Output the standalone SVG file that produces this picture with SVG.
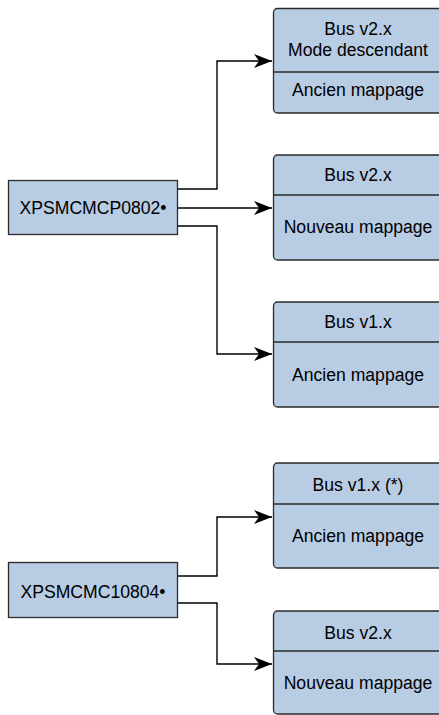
<svg xmlns="http://www.w3.org/2000/svg" width="439" height="715" viewBox="0 0 439 715">
<style>
.box{fill:#b8cce4;stroke:#2b2b2b;stroke-width:1.3}
.div{stroke:#2b2b2b;stroke-width:1.3;fill:none}
.t{font-family:"Liberation Sans",Arial,sans-serif;font-size:17.6px;fill:#000;text-anchor:middle}
.c{fill:none;stroke:#000;stroke-width:1.4}
</style>
<defs>
<marker id="arr" viewBox="0 0 18 14" refX="18" refY="7" markerWidth="18" markerHeight="14" markerUnits="userSpaceOnUse" orient="auto">
<path d="M0,0 L18,7 L0,14 L5,7 Z" fill="#000"/>
</marker>
</defs>
<rect width="439" height="715" fill="#fff"/>
<g id="connectors">
<path class="c" d="M178,189 H217 V61 H272" marker-end="url(#arr)"/>
<path class="c" d="M178,208 H272" marker-end="url(#arr)"/>
<path class="c" d="M178,226 H217 V354 H272" marker-end="url(#arr)"/>
<path class="c" d="M178,576 H217 V517 H272" marker-end="url(#arr)"/>
<path class="c" d="M178,603 H217 V664 H272" marker-end="url(#arr)"/>
</g>
<g id="src1">
<rect class="box" x="8.5" y="180.5" width="169" height="54"/>
<text class="t" x="93" y="214">XPSMCMCP0802•</text>
</g>
<g id="src2">
<rect class="box" x="8.5" y="562.5" width="169" height="55"/>
<text class="t" x="93" y="598">XPSMCMC10804•</text>
</g>
<g id="n1">
<rect class="box" x="273.5" y="8.5" width="175" height="104.5" rx="4"/>
<line class="div" x1="273.5" y1="72" x2="439" y2="72"/>
<text class="t" x="358" y="35">Bus v2.x</text>
<text class="t" x="358" y="56">Mode descendant</text>
<text class="t" x="358" y="96">Ancien mappage</text>
</g>
<g id="n2">
<rect class="box" x="273.5" y="155" width="175" height="105" rx="4"/>
<line class="div" x1="273.5" y1="195" x2="439" y2="195"/>
<text class="t" x="358" y="181">Bus v2.x</text>
<text class="t" x="358" y="233">Nouveau mappage</text>
</g>
<g id="n3">
<rect class="box" x="273.5" y="302" width="175" height="105" rx="4"/>
<line class="div" x1="273.5" y1="342" x2="439" y2="342"/>
<text class="t" x="358" y="328">Bus v1.x</text>
<text class="t" x="358" y="381">Ancien mappage</text>
</g>
<g id="n4">
<rect class="box" x="273.5" y="463" width="175" height="105" rx="4"/>
<line class="div" x1="273.5" y1="504" x2="439" y2="504"/>
<text class="t" x="358" y="491">Bus v1.x (*)</text>
<text class="t" x="358" y="542">Ancien mappage</text>
</g>
<g id="n5">
<rect class="box" x="273.5" y="611" width="175" height="103" rx="4"/>
<line class="div" x1="273.5" y1="651" x2="439" y2="651"/>
<text class="t" x="358" y="639">Bus v2.x</text>
<text class="t" x="358" y="689">Nouveau mappage</text>
</g>
</svg>
